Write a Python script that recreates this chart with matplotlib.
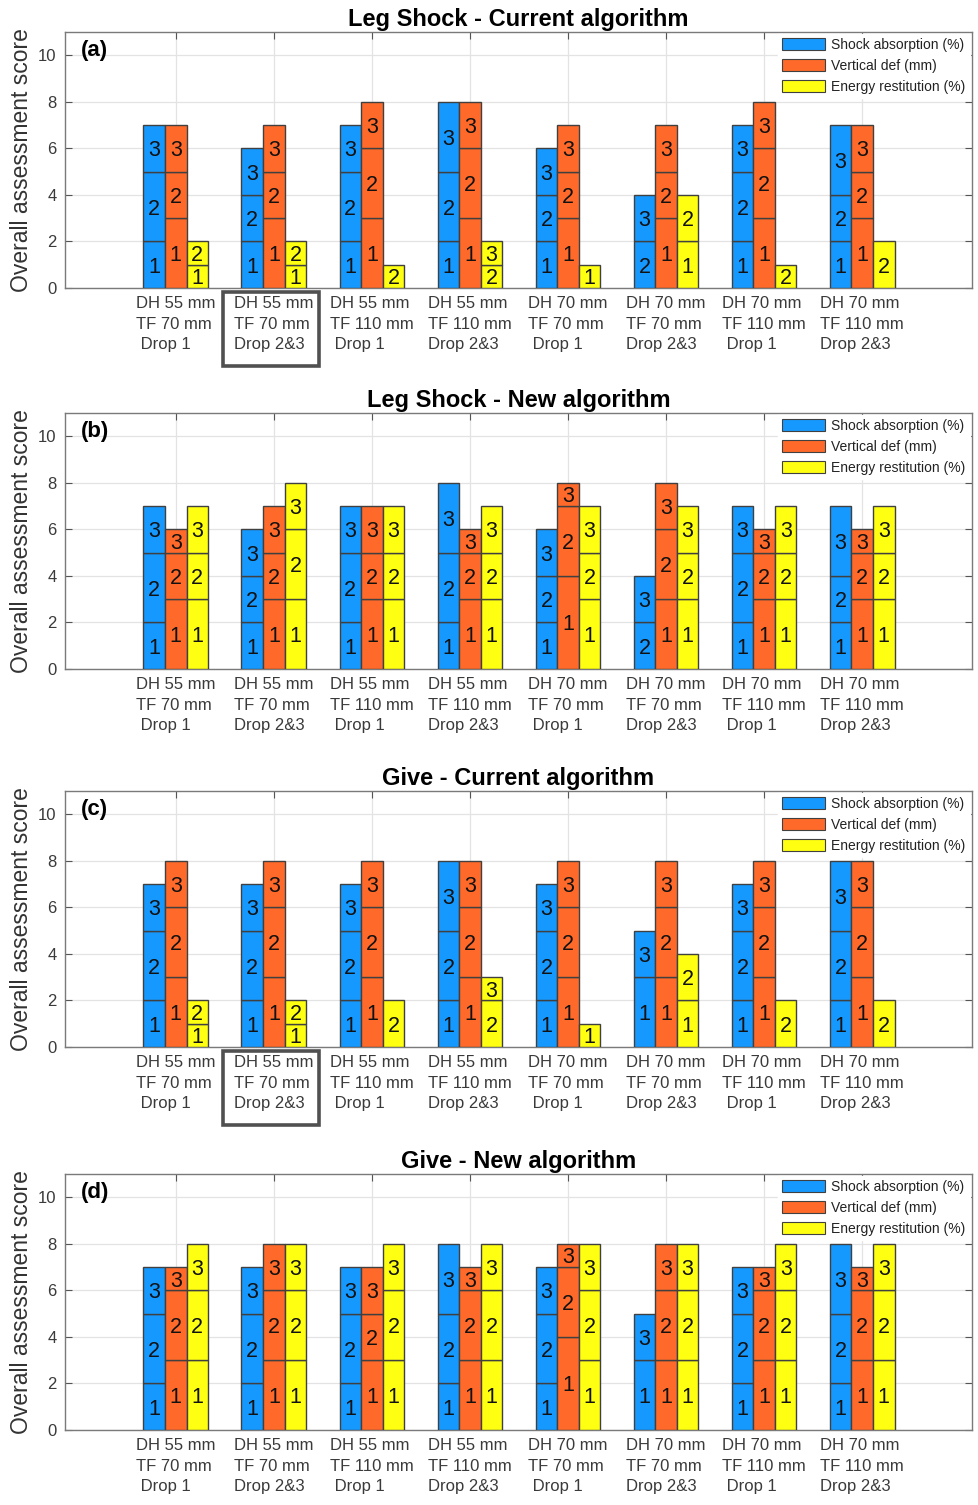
import matplotlib.pyplot as plt
from matplotlib.patches import Patch, Rectangle
import matplotlib.transforms as mtransforms

plt.rcParams['font.family'] = ['Liberation Sans', 'DejaVu Sans']

# test conditions on the x axis
groups = ['DH 55 mm\nTF 70 mm\n Drop 1', 'DH 55 mm\nTF 70 mm\nDrop 2&3',
          'DH 55 mm\nTF 110 mm\n Drop 1', 'DH 55 mm\nTF 110 mm\nDrop 2&3',
          'DH 70 mm\nTF 70 mm\n Drop 1', 'DH 70 mm\nTF 70 mm\nDrop 2&3',
          'DH 70 mm\nTF 110 mm\n Drop 1', 'DH 70 mm\nTF 110 mm\nDrop 2&3']
series = ['Shock absorption (%)', 'Vertical def (mm)', 'Energy restitution (%)']
titles = ['Leg Shock - Current algorithm', 'Leg Shock - New algorithm',
          'Give - Current algorithm', 'Give - New algorithm']
tags = ['(a)', '(b)', '(c)', '(d)']

# each bar is a stack of (score, segment height) from the bottom up
a_shock = [[(1, 2), (2, 3), (3, 2)], [(1, 2), (2, 2), (3, 2)], [(1, 2), (2, 3), (3, 2)], [(1, 2), (2, 3), (3, 3)],
           [(1, 2), (2, 2), (3, 2)], [(2, 2), (3, 2)], [(1, 2), (2, 3), (3, 2)], [(1, 2), (2, 2), (3, 3)]]
a_vert = [[(1, 3), (2, 2), (3, 2)], [(1, 3), (2, 2), (3, 2)], [(1, 3), (2, 3), (3, 2)], [(1, 3), (2, 3), (3, 2)],
          [(1, 3), (2, 2), (3, 2)], [(1, 3), (2, 2), (3, 2)], [(1, 3), (2, 3), (3, 2)], [(1, 3), (2, 2), (3, 2)]]
a_energy = [[(1, 1), (2, 1)], [(1, 1), (2, 1)], [(2, 1)], [(2, 1), (3, 1)],
            [(1, 1)], [(1, 2), (2, 2)], [(2, 1)], [(2, 2)]]

b_shock = [[(1, 2), (2, 3), (3, 2)], [(1, 2), (2, 2), (3, 2)], [(1, 2), (2, 3), (3, 2)], [(1, 2), (2, 3), (3, 3)],
           [(1, 2), (2, 2), (3, 2)], [(2, 2), (3, 2)], [(1, 2), (2, 3), (3, 2)], [(1, 2), (2, 2), (3, 3)]]
b_vert = [[(1, 3), (2, 2), (3, 1)], [(1, 3), (2, 2), (3, 2)], [(1, 3), (2, 2), (3, 2)], [(1, 3), (2, 2), (3, 1)],
          [(1, 4), (2, 3), (3, 1)], [(1, 3), (2, 3), (3, 2)], [(1, 3), (2, 2), (3, 1)], [(1, 3), (2, 2), (3, 1)]]
b_energy = [[(1, 3), (2, 2), (3, 2)], [(1, 3), (2, 3), (3, 2)], [(1, 3), (2, 2), (3, 2)], [(1, 3), (2, 2), (3, 2)],
            [(1, 3), (2, 2), (3, 2)], [(1, 3), (2, 2), (3, 2)], [(1, 3), (2, 2), (3, 2)], [(1, 3), (2, 2), (3, 2)]]

c_shock = [[(1, 2), (2, 3), (3, 2)], [(1, 2), (2, 3), (3, 2)], [(1, 2), (2, 3), (3, 2)], [(1, 2), (2, 3), (3, 3)],
           [(1, 2), (2, 3), (3, 2)], [(1, 3), (3, 2)], [(1, 2), (2, 3), (3, 2)], [(1, 2), (2, 3), (3, 3)]]
c_vert = [[(1, 3), (2, 3), (3, 2)], [(1, 3), (2, 3), (3, 2)], [(1, 3), (2, 3), (3, 2)], [(1, 3), (2, 3), (3, 2)],
          [(1, 3), (2, 3), (3, 2)], [(1, 3), (2, 3), (3, 2)], [(1, 3), (2, 3), (3, 2)], [(1, 3), (2, 3), (3, 2)]]
c_energy = [[(1, 1), (2, 1)], [(1, 1), (2, 1)], [(2, 2)], [(2, 2), (3, 1)],
            [(1, 1)], [(1, 2), (2, 2)], [(2, 2)], [(2, 2)]]

d_shock = [[(1, 2), (2, 3), (3, 2)], [(1, 2), (2, 3), (3, 2)], [(1, 2), (2, 3), (3, 2)], [(1, 2), (2, 3), (3, 3)],
           [(1, 2), (2, 3), (3, 2)], [(1, 3), (3, 2)], [(1, 2), (2, 3), (3, 2)], [(1, 2), (2, 3), (3, 3)]]
d_vert = [[(1, 3), (2, 3), (3, 1)], [(1, 3), (2, 3), (3, 2)], [(1, 3), (2, 2), (3, 2)], [(1, 3), (2, 3), (3, 1)],
          [(1, 4), (2, 3), (3, 1)], [(1, 3), (2, 3), (3, 2)], [(1, 3), (2, 3), (3, 1)], [(1, 3), (2, 3), (3, 1)]]
d_energy = [[(1, 3), (2, 3), (3, 2)], [(1, 3), (2, 3), (3, 2)], [(1, 3), (2, 3), (3, 2)], [(1, 3), (2, 3), (3, 2)],
            [(1, 3), (2, 3), (3, 2)], [(1, 3), (2, 3), (3, 2)], [(1, 3), (2, 3), (3, 2)], [(1, 3), (2, 3), (3, 2)]]

panels = [(a_shock, a_vert, a_energy), (b_shock, b_vert, b_energy),
          (c_shock, c_vert, c_energy), (d_shock, d_vert, d_energy)]
boxed = [True, False, True, False]   # outline the Drop 2&3 label of the 2nd group

colors = ['#1599FF', '#FF6A2A', '#FFFF12']
edge = '#404040'
width = 0.22
offsets = [-width, 0.0, width]

W, H = 979, 1505
fig = plt.figure(figsize=(W / 100, H / 100), dpi=100)
left, right = 65 / W, 972 / W
ax_h = 256 / H
bottoms_px = [288, 669, 1047, 1430]

for p, (stacks, title, tag, box) in enumerate(zip(panels, titles, tags, boxed)):
    ax = fig.add_axes([left, 1 - bottoms_px[p] / H, right - left, ax_h])
    xs = range(1, len(groups) + 1)
    for k, bars in enumerate(stacks):
        for x0, segs in zip(xs, bars):
            x = x0 + offsets[k]
            bottom = 0
            for score, h in segs:
                ax.bar(x, h, width, bottom=bottom, color=colors[k], edgecolor=edge,
                       linewidth=1.0, zorder=3)
                ax.text(x, bottom + h / 2, str(score), ha='center', va='center_baseline',
                        fontsize=15.5, color='#111111', zorder=4)
                bottom += h

    ax.set_xlim(-0.13, 9.12)
    ax.set_ylim(0, 11)
    ax.set_xticks(list(xs))
    ax.set_xticklabels(groups, fontsize=12, color='#3a3a3a', linespacing=1.45,
                       multialignment='left')
    ax.set_yticks(range(0, 11, 2))
    ax.tick_params(axis='y', labelsize=12, labelcolor='#3a3a3a')
    ax.tick_params(direction='in', top=True, right=True, length=5, width=0.8,
                   color='#555555', pad=6)
    ax.grid(True, color='#e3e3e3', linewidth=0.9, zorder=0)
    ax.set_axisbelow(True)
    for s in ax.spines.values():
        s.set_color('#7a7a7a')
        s.set_linewidth(1.0)

    ax.set_title(title, fontsize=17, fontweight='bold', pad=4)
    ax.set_ylabel('Overall assessment score', fontsize=16.5, color='#333333', labelpad=4)
    ax.text(0.018, 0.926, tag, transform=ax.transAxes, fontsize=16, fontweight='bold',
            ha='left', va='center')

    handles = [Patch(facecolor=c, edgecolor=edge, linewidth=0.8) for c in colors]
    leg = ax.legend(handles, series, loc='upper right', fontsize=10, frameon=True,
                    fancybox=False, edgecolor='white', framealpha=1.0,
                    handlelength=3.1, handleheight=0.95, handletextpad=0.45,
                    labelspacing=0.5, borderpad=0.3, borderaxespad=0.15)
    for t in leg.get_texts():
        t.set_color('#222222')

    if box:
        trans = mtransforms.blended_transform_factory(ax.transData, ax.transAxes)
        ax.add_patch(Rectangle((1.48, -0.305), 0.98, 0.289, transform=trans,
                               fill=False, edgecolor='#505050', linewidth=2.6,
                               clip_on=False, zorder=5))

fig.savefig('out.png', dpi=100, facecolor='white')
